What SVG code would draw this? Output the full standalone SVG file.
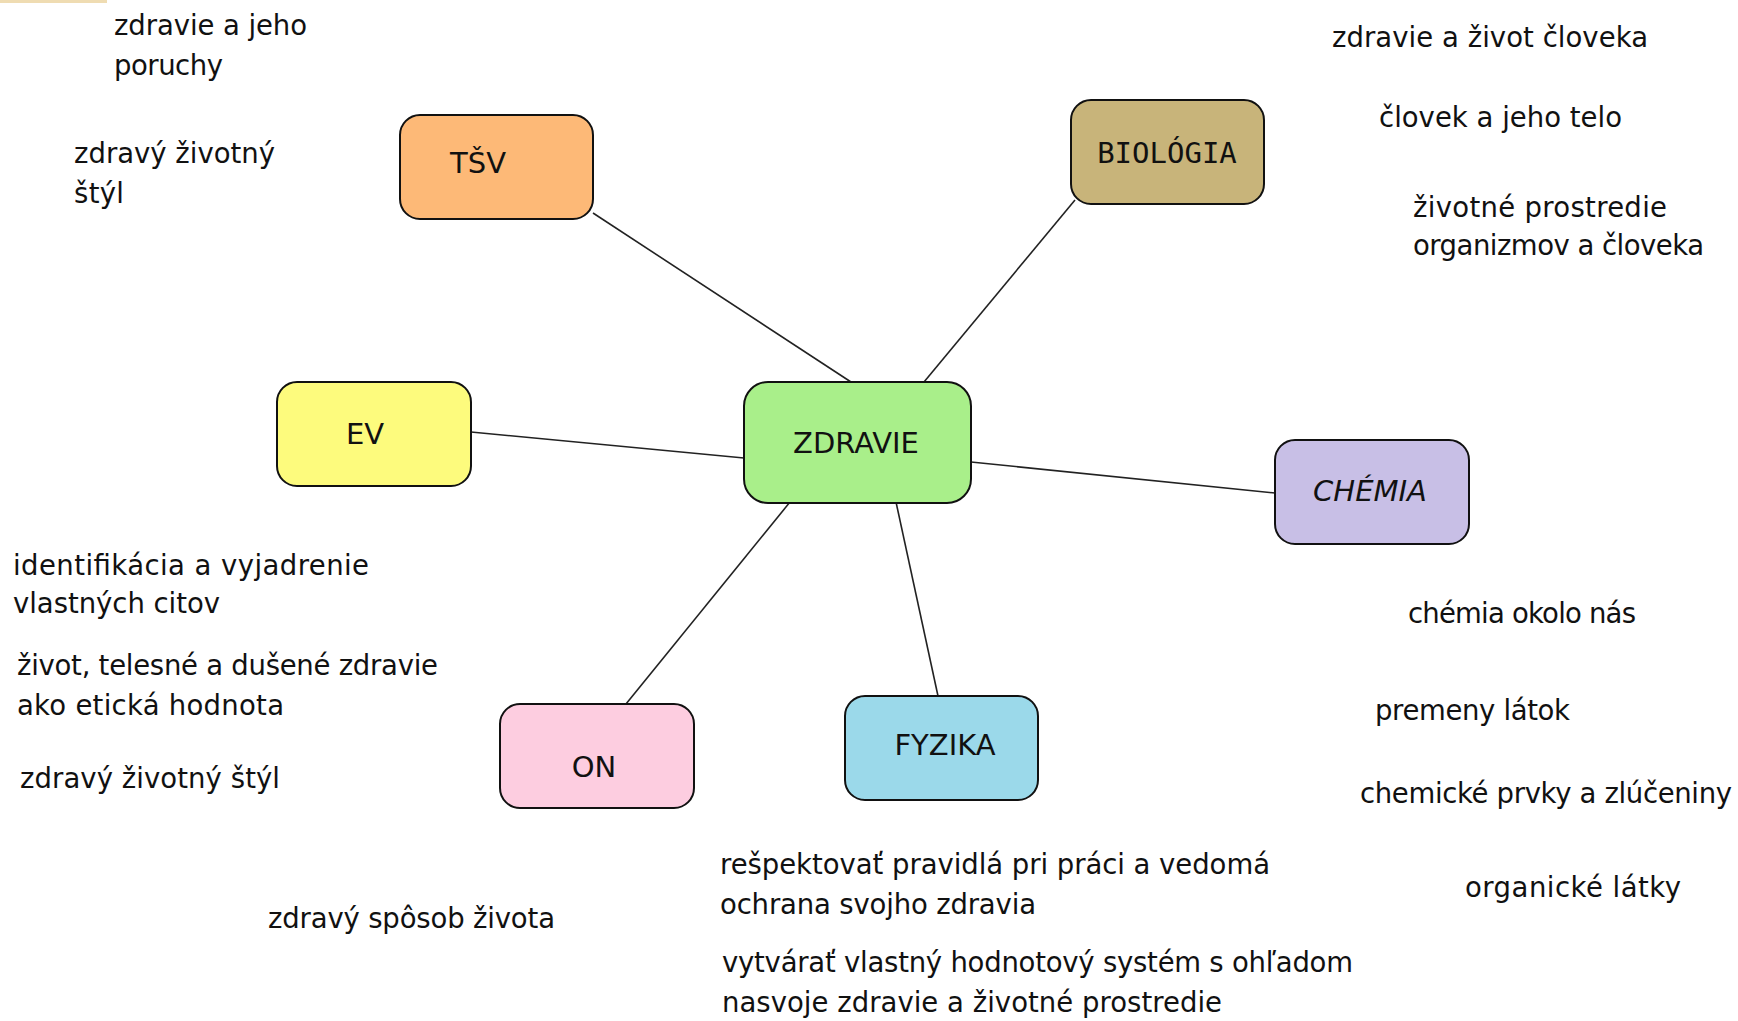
<svg xmlns="http://www.w3.org/2000/svg" width="1738" height="1021" viewBox="0 0 1738 1021">
<style>
.box{stroke:#111;stroke-width:2}
.lbl{font-family:"Comic Sans MS","DejaVu Sans",sans-serif;font-size:29px;fill:#111;text-anchor:middle}
.t{font-family:"Comic Sans MS","DejaVu Sans",sans-serif;font-size:27.5px;fill:#111}
.con line{stroke:#222;stroke-width:1.6}
</style>
<rect width="1738" height="1021" fill="#fff"/>
<rect x="0" y="0" width="107" height="3" fill="#efdcb2"/>
<g class="con">
<line x1="593" y1="213" x2="851" y2="382"/>
<line x1="1075" y1="200" x2="924" y2="382"/>
<line x1="471" y1="432" x2="744" y2="458"/>
<line x1="971" y1="462" x2="1275" y2="493"/>
<line x1="626" y1="704" x2="790" y2="502"/>
<line x1="938" y1="696" x2="896" y2="502"/>
</g>
<g id="zdravie"><rect class="box" x="744" y="382" width="227" height="121" rx="24" fill="#a9ef8a"/><text class="lbl" x="856" y="453" font-size="32">ZDRAVIE</text></g>
<g id="tsv"><rect class="box" x="400" y="115" width="193" height="104" rx="20" fill="#fdb977"/><text class="lbl" x="478" y="173">TŠV</text></g>
<g id="biologia"><rect class="box" x="1071" y="100" width="193" height="104" rx="20" fill="#c8b47a"/><text class="lbl" x="1167" y="163" style="font-family:'DejaVu Sans Mono',monospace" font-size="30">BIOLÓGIA</text></g>
<g id="ev"><rect class="box" x="277" y="382" width="194" height="104" rx="20" fill="#fdfb7d"/><text class="lbl" x="365" y="444">EV</text></g>
<g id="chemia"><rect class="box" x="1275" y="440" width="194" height="104" rx="20" fill="#c8bfe6"/><text class="lbl" x="1370" y="501" font-style="italic">CHÉMIA</text></g>
<g id="on"><rect class="box" x="500" y="704" width="194" height="104" rx="20" fill="#fdcde0"/><text class="lbl" x="594" y="777">ON</text></g>
<g id="fyzika"><rect class="box" x="845" y="696" width="193" height="104" rx="20" fill="#9bd9ea"/><text class="lbl" x="945" y="755">FYZIKA</text></g>
<g id="texts">
<text class="t" x="114" y="35" textLength="193">zdravie a jeho</text>
<text class="t" x="114" y="75" textLength="109">poruchy</text>
<text class="t" x="74" y="163" textLength="201">zdravý životný</text>
<text class="t" x="74" y="203" textLength="50">štýl</text>
<text class="t" x="1332" y="47" textLength="316">zdravie a život človeka</text>
<text class="t" x="1379" y="127" textLength="243">človek a jeho telo</text>
<text class="t" x="1413" y="217" textLength="254">životné prostredie</text>
<text class="t" x="1413" y="255" textLength="291">organizmov a človeka</text>
<text class="t" x="13" y="575" textLength="356">identifikácia a vyjadrenie</text>
<text class="t" x="13" y="613" textLength="207">vlastných citov</text>
<text class="t" x="17" y="675" textLength="421">život, telesné a dušené zdravie</text>
<text class="t" x="17" y="715" textLength="267">ako etická hodnota</text>
<text class="t" x="20" y="788" textLength="260">zdravý životný štýl</text>
<text class="t" x="1408" y="623" textLength="228">chémia okolo nás</text>
<text class="t" x="1375" y="720" textLength="195">premeny látok</text>
<text class="t" x="1360" y="803" textLength="372">chemické prvky a zlúčeniny</text>
<text class="t" x="1465" y="897" textLength="216">organické látky</text>
<text class="t" x="268" y="928" textLength="287">zdravý spôsob života</text>
<text class="t" x="720" y="874" textLength="550">rešpektovať pravidlá pri práci a vedomá</text>
<text class="t" x="720" y="914" textLength="316">ochrana svojho zdravia</text>
<text class="t" x="722" y="972" textLength="631">vytvárať vlastný hodnotový systém s ohľadom</text>
<text class="t" x="722" y="1012" textLength="500">nasvoje zdravie a životné prostredie</text>
</g>
</svg>
